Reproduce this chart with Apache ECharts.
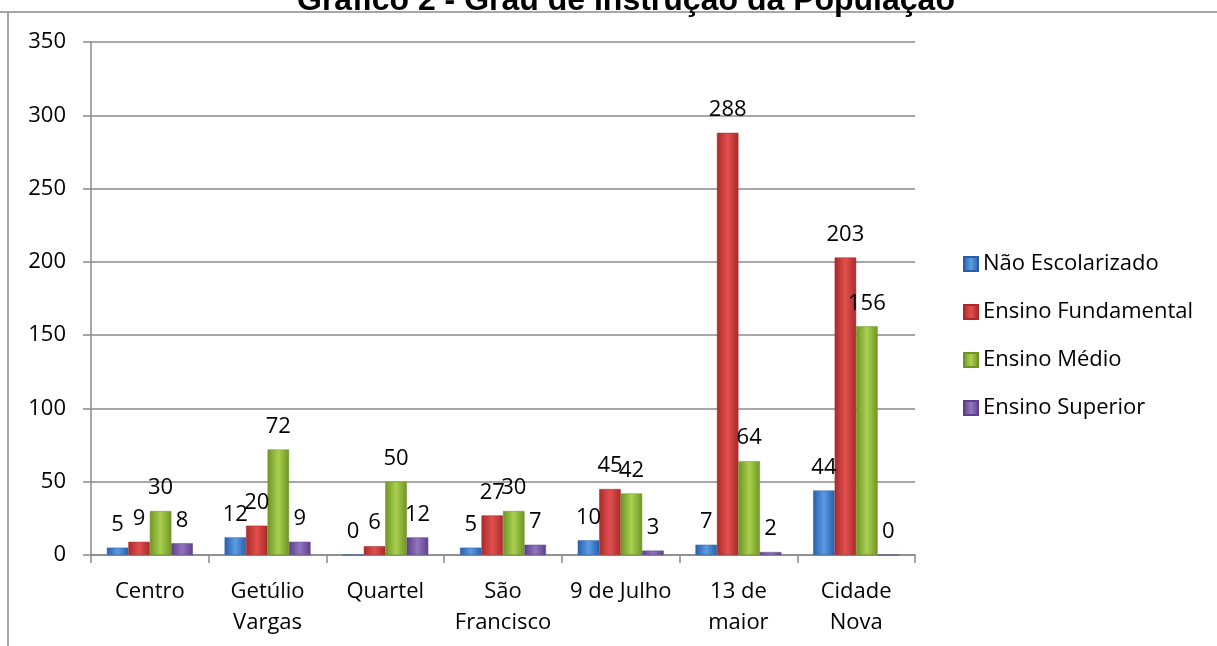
<!DOCTYPE html>
<html lang="pt">
<head>
    <meta charset="UTF-8">
    <title>Gráfico 2 - Grau de Instrução da População</title>
    <style>
        html, body { margin: 0; padding: 0; background: #fff; }
        #main { width: 1217px; height: 646px; }
    </style>
    <script src="https://cdn.jsdelivr.net/npm/echarts@6/dist/echarts.min.js"></script>
</head>
<body>
    <div id="main"></div>
    <script>
        // dados
        var bairros = ['Centro', 'Getúlio\nVargas', 'Quartel', 'São\nFrancisco', '9 de Julho', '13 de\nmaior', 'Cidade\nNova'];
        var naoEscolarizado = [5, 12, 0, 5, 10, 7, 44];
        var fundamental = [9, 20, 6, 27, 45, 288, 203];
        var medio = [30, 72, 50, 30, 42, 64, 156];
        var superior = [8, 9, 12, 7, 3, 2, 0];
        var yTicks = [0, 50, 100, 150, 200, 250, 300, 350];

        var fonte = '"Open Sans", "Noto Sans", sans-serif';

        // gradiente horizontal para imitar o relevo das barras
        function relevo(escuro, claro) {
            return new echarts.graphic.LinearGradient(0, 0, 1, 0, [
                { offset: 0, color: escuro },
                { offset: 0.5, color: claro },
                { offset: 1, color: escuro }
            ]);
        }

        function serie(nome, dados, escuro, claro) {
            return {
                name: nome,
                type: 'bar',
                data: dados,
                barGap: '0%',
                barCategoryGap: '27%',
                itemStyle: { color: relevo(escuro, claro), borderColor: escuro, borderWidth: 0.5 },
                label: {
                    show: true,
                    position: 'top',
                    distance: 12,
                    color: '#000',
                    fontSize: 22,
                    fontFamily: fonte
                }
            };
        }

        var chart = echarts.init(document.getElementById('main'));

        var option = {
            animation: false,
            title: {
                text: 'Gráfico 2 - Grau de Instrução da População',
                left: 297,
                top: -15,
                padding: 0,
                textStyle: { fontFamily: '"Liberation Sans", Arial', fontWeight: 'bold', fontSize: 32, color: '#000' }
            },
            graphic: [
                { type: 'line', shape: { x1: 0, y1: 12, x2: 1217, y2: 12 }, style: { stroke: '#8a8a8a', lineWidth: 1.5 } },
                { type: 'line', shape: { x1: 8, y1: 12, x2: 8, y2: 646 }, style: { stroke: '#8a8a8a', lineWidth: 1.5 } }
            ],
            legend: {
                orient: 'vertical',
                left: 958,
                top: 248,
                itemWidth: 14,
                itemHeight: 14,
                itemGap: 26,
                icon: 'rect',
                textStyle: { fontSize: 22, fontFamily: fonte, color: '#000', padding: [0, 0, 0, 0] },
                data: ['Não Escolarizado', 'Ensino Fundamental', 'Ensino Médio', 'Ensino Superior']
            },
            grid: { left: 91, right: 302, top: 42, bottom: 91 },
            xAxis: {
                type: 'category',
                data: bairros,
                axisLine: { lineStyle: { color: '#8a8a8a', width: 1.5 } },
                axisTick: { show: true, length: 8, lineStyle: { color: '#8a8a8a', width: 1.5 } },
                axisLabel: { color: '#000', fontSize: 22, fontFamily: fonte, lineHeight: 31, margin: 21, interval: 0 }
            },
            yAxis: {
                type: 'value',
                min: yTicks[0],
                max: yTicks[yTicks.length - 1],
                interval: 50,
                axisLine: { show: true, lineStyle: { color: '#8a8a8a', width: 1.5 } },
                axisTick: { show: true, length: 8, lineStyle: { color: '#8a8a8a', width: 1.5 } },
                splitLine: { lineStyle: { color: '#8a8a8a', width: 1.5 } },
                axisLabel: { color: '#000', fontSize: 22, fontFamily: fonte, margin: 25 }
            },
            series: [
                serie('Não Escolarizado', naoEscolarizado, '#2a5fa8', '#5b9be6'),
                serie('Ensino Fundamental', fundamental, '#a82a2a', '#e2504e'),
                serie('Ensino Médio', medio, '#6f9426', '#a9d04e'),
                serie('Ensino Superior', superior, '#5d4088', '#9275c0')
            ]
        };

        chart.setOption(option);
    </script>
</body>
</html>
